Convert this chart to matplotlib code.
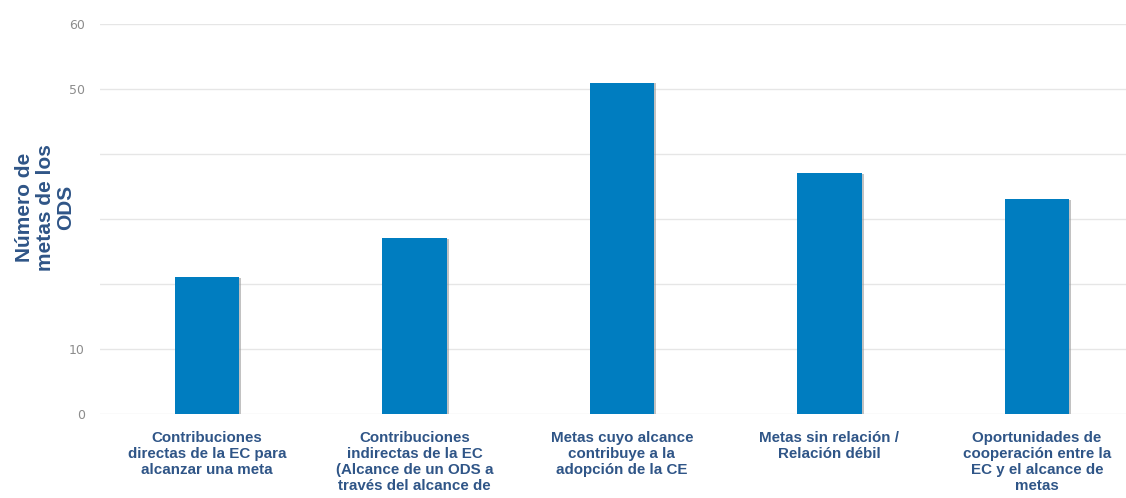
import matplotlib
matplotlib.use('Agg')
import matplotlib.pyplot as plt
import matplotlib.patheffects as pe

# ---- data ----
categories = [
    'Contribuciones\ndirectas de la EC para\nalcanzar una meta',
    'Contribuciones\nindirectas de la EC\n(Alcance de un ODS a\ntravés del alcance de',
    'Metas cuyo alcance\ncontribuye a la\nadopción de la CE',
    'Metas sin relación /\nRelación débil',
    'Oportunidades de\ncooperación entre la\nEC y el alcance de\nmetas',
]
values = [21, 27, 51, 37, 33]
ytick_vals = [0, 10, 20, 30, 40, 50, 60]
ytick_labels = ['0', '10', '', '', '', '50', '60']

BLUE = '#007dc0'
TXT = '#2f5587'

fig = plt.figure(figsize=(11.26, 4.98), dpi=100)
ax = fig.add_axes([0.0888, 0.1687, 0.9112, 0.7831])

x = list(range(len(values)))
bars = ax.bar(x, values, width=0.31, color=BLUE, zorder=3)
for b in bars:
    b.set_path_effects([pe.SimplePatchShadow(offset=(1.5, -0.5), shadow_rgbFace='#9a9a9a', alpha=0.6),
                        pe.Normal()])

ax.set_xlim(-0.516, 4.43)
ax.set_ylim(0, 60)
ax.set_yticks(ytick_vals)
ax.set_yticklabels(ytick_labels, color='#8c8c8c', fontsize=9)
ax.tick_params(axis='y', length=0, pad=11)
ax.set_xticks(x)
ax.set_xticklabels(categories, fontsize=10.9, fontweight='bold', color=TXT,
                   family=['Liberation Sans', 'DejaVu Sans'], va='top', linespacing=1.2)
ax.tick_params(axis='x', length=0, pad=12)
ax.grid(axis='y', color='#e6e6e6', lw=1, zorder=0)
for s in ax.spines.values():
    s.set_visible(False)

fig.text(0.040, 0.584, 'Número de\nmetas de los\nODS', rotation=90, ha='center', va='center',
         fontsize=15, fontweight='bold', color=TXT, family=['Liberation Sans', 'DejaVu Sans'],
         linespacing=1.12, multialignment='center')

fig.savefig('out.png', dpi=100)
